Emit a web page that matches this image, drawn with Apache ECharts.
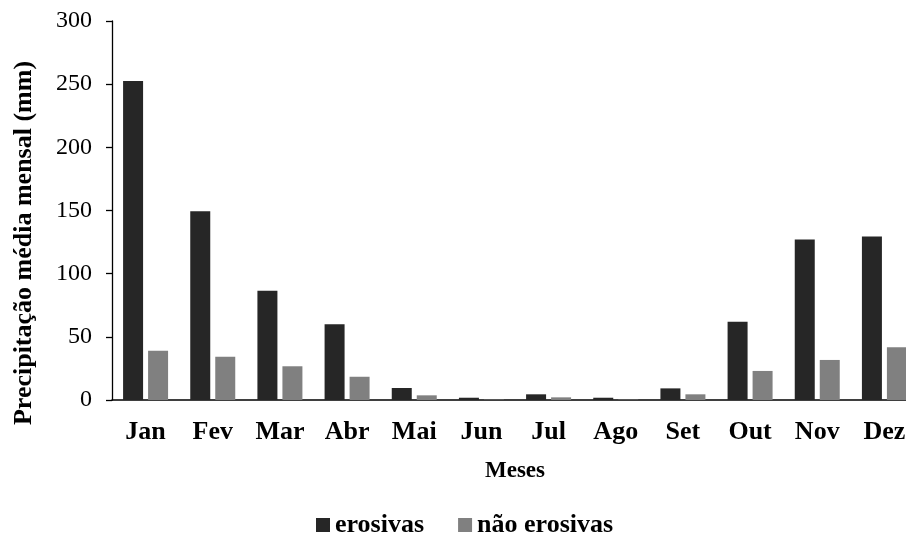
<!DOCTYPE html>
<html>
<head>
<meta charset="utf-8">
<script src="https://cdn.jsdelivr.net/npm/echarts@6/dist/echarts.min.js"></script>
<style>html,body{margin:0;padding:0;background:#fff;overflow:hidden;width:906px;height:537px;}#c{width:920px;height:537px;}</style>
</head>
<body>
<div id="c"></div>
<script>
const months = ['Jan','Fev','Mar','Abr','Mai','Jun','Jul','Ago','Set','Out','Nov','Dez'];
const erosivas = [252.5, 149.5, 86.5, 60, 9.5, 1.8, 4.5, 1.8, 9.2, 62, 127, 129.5];
const naoErosivas = [39, 34.3, 26.7, 18.4, 3.7, 0.3, 2.1, 0.3, 4.5, 23, 31.7, 41.7];
const seriesNames = ['erosivas', 'não erosivas'];
const yTicks = [0, 50, 100, 150, 200, 250, 300];

const serif = '"Liberation Serif", "Times New Roman", serif';
const chart = echarts.init(document.getElementById('c'), null, {renderer: 'canvas'});
chart.setOption({
  animation: false,
  backgroundColor: '#fff',
  textStyle: {fontFamily: serif},
  grid: {left: 112, right: 2, top: 21, bottom: 137, containLabel: false},
  legend: {
    data: seriesNames,
    top: 507,
    left: 311,
    icon: 'rect',
    itemWidth: 14,
    itemHeight: 14,
    itemGap: 34,
    textStyle: {fontFamily: serif, fontWeight: 'bold', fontSize: 26, color: '#000'}
  },
  xAxis: {
    type: 'category',
    data: months,
    name: 'Meses',
    nameLocation: 'middle',
    nameGap: 60,
    nameTextStyle: {fontFamily: serif, fontWeight: 'bold', fontSize: 23, color: '#000'},
    axisLine: {lineStyle: {color: '#000', width: 1.5}},
    axisTick: {show: false},
    axisLabel: {fontFamily: serif, fontWeight: 'bold', fontSize: 26, color: '#000', margin: 19}
  },
  yAxis: {
    type: 'value',
    min: yTicks[0],
    max: yTicks[yTicks.length - 1],
    interval: 50,
    splitLine: {show: false},
    axisLine: {show: true, lineStyle: {color: '#000', width: 1.3}},
    axisTick: {show: true, length: 6, lineStyle: {color: '#000', width: 1.3}},
    axisLabel: {fontFamily: serif, fontSize: 24, color: '#000', margin: 20}
  },
  graphic: [{
    type: 'text',
    x: 24,
    y: 243,
    rotation: Math.PI / 2,
    style: {
      text: 'Precipitação média mensal (mm)',
      font: 'bold 26px ' + serif,
      fill: '#000',
      align: 'center',
      verticalAlign: 'middle'
    }
  }],
  series: [
    {name: seriesNames[0], type: 'bar', data: erosivas, barWidth: 20, barGap: '25%',
     itemStyle: {color: '#262626'}},
    {name: seriesNames[1], type: 'bar', data: naoErosivas, barWidth: 20, barGap: '25%',
     itemStyle: {color: '#808080'}}
  ]
});
</script>
</body>
</html>
